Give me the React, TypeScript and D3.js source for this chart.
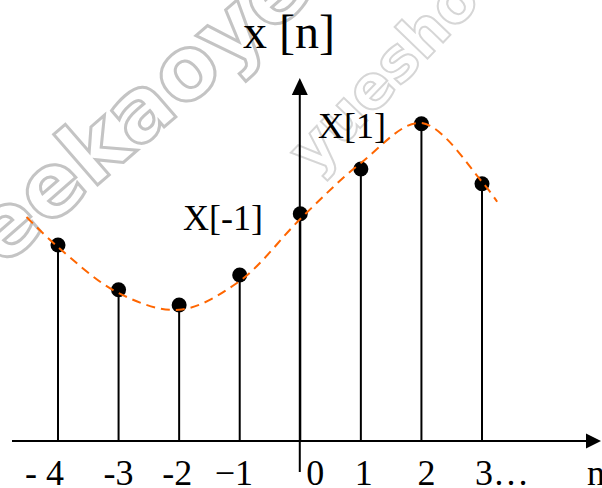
import React from "react";
import * as d3 from "d3";

// Sample index n and the sequence values x[n]
const sampleN = [-4, -3, -2, -1, 0, 1, 2, 3];
const sampleValues = [4.9, 3.78, 3.4, 4.15, 5.68, 6.8, 7.93, 6.43];

// Underlying continuous signal, traced as a smooth dashed curve
const curveN = [-4.52, -4, -3, -2, -1, 0, 1, 2, 3, 3.25];
const curveValues = [5.6, 4.85, 3.7, 3.28, 4.0, 5.55, 6.95, 7.95, 6.48, 5.98];

// Axis labels under the n axis
const tickLabels = ["- 4", "-3", "-2", "\u22121", "0", "1", "2", "3\u2026"];

const W = 602;
const H = 488;
const SERIF = "'Liberation Serif', 'Times New Roman', serif";

export default function App() {
  const x = d3.scaleLinear().domain([-4, 3]).range([58, 482]);
  const y = d3.scaleLinear().domain([0, 8]).range([441, 121]);
  const axisY = y(0);
  const axisX = x(0) - 0.5;

  const curvePts: [number, number][] = curveN.map((n, i) => [x(n), y(curveValues[i])]);
  const curvePath = d3.line().curve(d3.curveCatmullRom.alpha(0.5))(curvePts) || "";

  // horizontal nudges so each label sits as typeset
  const labelShift = [-33, -15, -17, -25, 6, -6, -4, -7];

  return (
    <svg
      width={W}
      height={H}
      viewBox={`0 0 ${W} ${H}`}
      style={{ position: "absolute", left: 0, top: 0, background: "#fff" }}
    >
      {/* faint outlined watermarks */}
      <g fontFamily="'DejaVu Sans', sans-serif" fontWeight="bold" fill="none">
        <text
          transform="translate(2,268) rotate(-41)"
          fontSize={88}
          stroke="#c4c4c4"
          strokeWidth={3}
        >
          eekaoye
        </text>
        <text
          transform="translate(314,176) rotate(-46)"
          fontSize={60}
          stroke="#d6d6d6"
          strokeWidth={2}
        >
          yuesho
        </text>
      </g>

      {/* horizontal n axis with arrow */}
      <line x1={12} x2={587} y1={axisY} y2={axisY} stroke="#000" strokeWidth={2} />
      <path d={`M601,${axisY} L586,${axisY - 7.5} L586,${axisY + 7.5} Z`} fill="#000" />

      {/* vertical axis with arrow */}
      <line x1={axisX} x2={axisX} y1={472} y2={92} stroke="#000" strokeWidth={2} />
      <path d={`M${axisX},78 L${axisX - 8},95 L${axisX + 8},95 Z`} fill="#000" />

      {/* stems */}
      {sampleN.map((n, i) => (
        <line
          key={`s${n}`}
          x1={x(n)}
          x2={x(n)}
          y1={axisY}
          y2={y(sampleValues[i])}
          stroke="#000"
          strokeWidth={2}
        />
      ))}

      {/* dots */}
      {sampleN.map((n, i) => (
        <circle key={`d${n}`} cx={x(n)} cy={y(sampleValues[i])} r={7.5} fill="#000" />
      ))}

      {/* continuous envelope */}
      <path
        d={curvePath}
        fill="none"
        stroke="#ff6600"
        strokeWidth={2}
        strokeDasharray="9 6"
      />

      {/* titles and annotations */}
      <text x={243} y={48} fontFamily={SERIF} fontSize={48} fill="#000">
        x [n]
      </text>
      <text x={183} y={230} fontFamily={SERIF} fontSize={36} fill="#000">
        X[-1]
      </text>
      <text x={318} y={138} fontFamily={SERIF} fontSize={36} fill="#000">
        X[1]
      </text>

      {/* tick labels */}
      {sampleN.map((n, i) => (
        <text
          key={`t${n}`}
          x={x(n) + labelShift[i]}
          y={485}
          fontFamily={SERIF}
          fontSize={36}
          fill="#000"
        >
          {tickLabels[i]}
        </text>
      ))}
      <text x={587} y={485} fontFamily={SERIF} fontSize={36} fill="#000">
        n
      </text>
    </svg>
  );
}
